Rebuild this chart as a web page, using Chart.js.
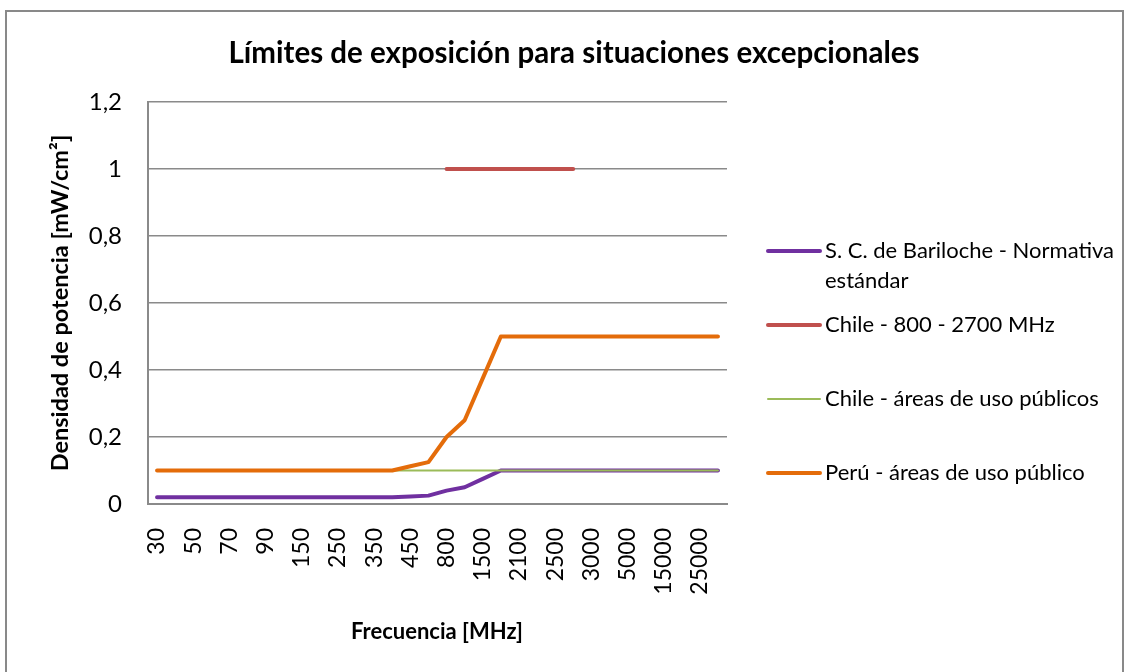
<!DOCTYPE html>
<html>
<head>
<meta charset="utf-8">
<script src="https://cdn.jsdelivr.net/npm/chart.js@4.4.1/dist/chart.umd.min.js"></script>
<style>
  html, body { margin: 0; padding: 0; background: #ffffff; }
  #wrap { width: 1129px; height: 672px; }
</style>
</head>
<body>
<div id="wrap"><canvas id="c" width="1129" height="672"></canvas></div>
<script>
// ---- Data ----
const chartTitle = 'Límites de exposición para situaciones excepcionales';
const xAxisTitle = 'Frecuencia [MHz]';
const yAxisTitle = 'Densidad de potencia [mW/cm²]';

const categories = ['30','40','50','60','70','80','90','100','150','200','250','300','350','400','450','500',
                    '800','1000','1500','2000','2100','2400','2500','2700','3000','4000','5000','10000','15000','20000','25000','30000'];

const seriesNames = [
  'S. C. de Bariloche - Normativa estándar',
  'Chile - 800 - 2700 MHz',
  'Chile - áreas de uso públicos',
  'Perú - áreas de uso público'
];

const bariloche = [0.02,0.02,0.02,0.02,0.02,0.02,0.02,0.02,0.02,0.02,0.02,0.02,0.02,0.02,0.0225,0.025,
                   0.04,0.05,0.075,0.1,0.1,0.1,0.1,0.1,0.1,0.1,0.1,0.1,0.1,0.1,0.1,0.1];
const chile800 = [null,null,null,null,null,null,null,null,null,null,null,null,null,null,null,null,
                  1,1,1,1,1,1,1,1,null,null,null,null,null,null,null,null];
const chilePublico = [0.1,0.1,0.1,0.1,0.1,0.1,0.1,0.1,0.1,0.1,0.1,0.1,0.1,0.1,0.1,0.1,
                      0.1,0.1,0.1,0.1,0.1,0.1,0.1,0.1,0.1,0.1,0.1,0.1,0.1,0.1,0.1,0.1];
const peru = [0.1,0.1,0.1,0.1,0.1,0.1,0.1,0.1,0.1,0.1,0.1,0.1,0.1,0.1,0.1125,0.125,
              0.2,0.25,0.375,0.5,0.5,0.5,0.5,0.5,0.5,0.5,0.5,0.5,0.5,0.5,0.5,0.5];

const yTickValues = [0, 0.2, 0.4, 0.6, 0.8, 1, 1.2];
const yTickLabels = ['0', '0,2', '0,4', '0,6', '0,8', '1', '1,2'];

// ---- Styles ----
const colors = ['#7030A0', '#C0504D', '#9BBB59', '#E46C0A'];
const widths = [4, 4, 2, 4];
const FONT = 'Lato, "Open Sans", sans-serif';
const GRID = '#8a8a8a';

const datasets = [bariloche, chile800, chilePublico, peru].map((d, i) => ({
  label: seriesNames[i],
  data: d,
  borderColor: colors[i],
  backgroundColor: colors[i],
  borderWidth: widths[i],
  pointRadius: 0,
  pointHoverRadius: 0,
  tension: 0,
  spanGaps: false,
  borderCapStyle: 'round',
  borderJoinStyle: 'round',
  order: [4, 3, 2, 1][i]
}));

function wrapText(ctx, text, maxW) {
  const words = text.split(' ');
  const lines = [];
  let cur = '';
  for (const w of words) {
    const t = cur ? cur + ' ' + w : w;
    if (ctx.measureText(t).width > maxW && cur) { lines.push(cur); cur = w; }
    else cur = t;
  }
  if (cur) lines.push(cur);
  return lines;
}

const decor = {
  id: 'decor',
  beforeDraw(chart) {
    const ctx = chart.ctx;
    ctx.save();
    ctx.fillStyle = '#ffffff';
    ctx.fillRect(0, 0, chart.width, chart.height);
    ctx.restore();
  },
  afterDraw(chart) {
    const ctx = chart.ctx;
    ctx.save();
    // outer frame
    ctx.strokeStyle = '#898989';
    ctx.lineWidth = 2;
    ctx.strokeRect(6, 11, 1117, 680);

    // title
    ctx.fillStyle = '#000000';
    ctx.textAlign = 'center';
    ctx.textBaseline = 'middle';
    ctx.font = 'bold 29.5px ' + FONT;
    ctx.fillText(chartTitle, 574, 53);

    // x axis title
    ctx.font = 'bold 22px ' + FONT;
    ctx.fillText(xAxisTitle, 437, 632);

    // y axis title
    ctx.save();
    ctx.translate(60, 303);
    ctx.rotate(-Math.PI / 2);
    ctx.font = 'bold 23.5px ' + FONT;
    ctx.fillText(yAxisTitle, 0, 0);
    ctx.restore();

    // legend
    ctx.font = '22px ' + FONT;
    ctx.textAlign = 'left';
    const itemY = [251, 325, 399, 473];
    chart.data.datasets.forEach((ds, i) => {
      const y = itemY[i];
      ctx.strokeStyle = ds.borderColor;
      ctx.lineWidth = ds.borderWidth;
      ctx.lineCap = 'round';
      ctx.beginPath();
      ctx.moveTo(768, y);
      ctx.lineTo(820, y);
      ctx.stroke();
      ctx.fillStyle = '#000000';
      const lines = wrapText(ctx, ds.label, 295);
      lines.forEach((ln, k) => ctx.fillText(ln, 825, y + k * 30));
    });
    ctx.restore();
  }
};

new Chart(document.getElementById('c'), {
  type: 'line',
  data: { labels: categories, datasets: datasets },
  options: {
    responsive: false,
    animation: false,
    events: [],
    layout: { padding: { top: 102, right: 402, left: 0, bottom: 0 } },
    plugins: {
      legend: { display: false },
      title: { display: false },
      tooltip: { enabled: false }
    },
    scales: {
      x: {
        type: 'category',
        offset: true,
        grid: { display: false, drawTicks: false },
        border: { display: true, color: GRID, width: 2 },
        ticks: {
          autoSkip: false,
          maxRotation: 90,
          minRotation: 90,
          padding: 24,
          color: '#000000',
          font: { family: FONT, size: 23 },
          callback: function (v, i) { return i % 2 === 0 ? categories[i] : ''; }
        },
        afterFit: function (scale) { scale.height = 168; }
      },
      y: {
        min: 0,
        max: 1.2,
        grid: { color: GRID, lineWidth: 1.5, drawTicks: false },
        border: { display: true, color: GRID, width: 2 },
        afterBuildTicks: function (scale) { scale.ticks = yTickValues.map(v => ({ value: v })); },
        ticks: {
          padding: 26,
          color: '#000000',
          font: { family: FONT, size: 24 },
          callback: function (v, i) { return yTickLabels[i]; }
        },
        afterFit: function (scale) { scale.width = 148; }
      }
    }
  },
  plugins: [decor]
});
</script>
</body>
</html>
